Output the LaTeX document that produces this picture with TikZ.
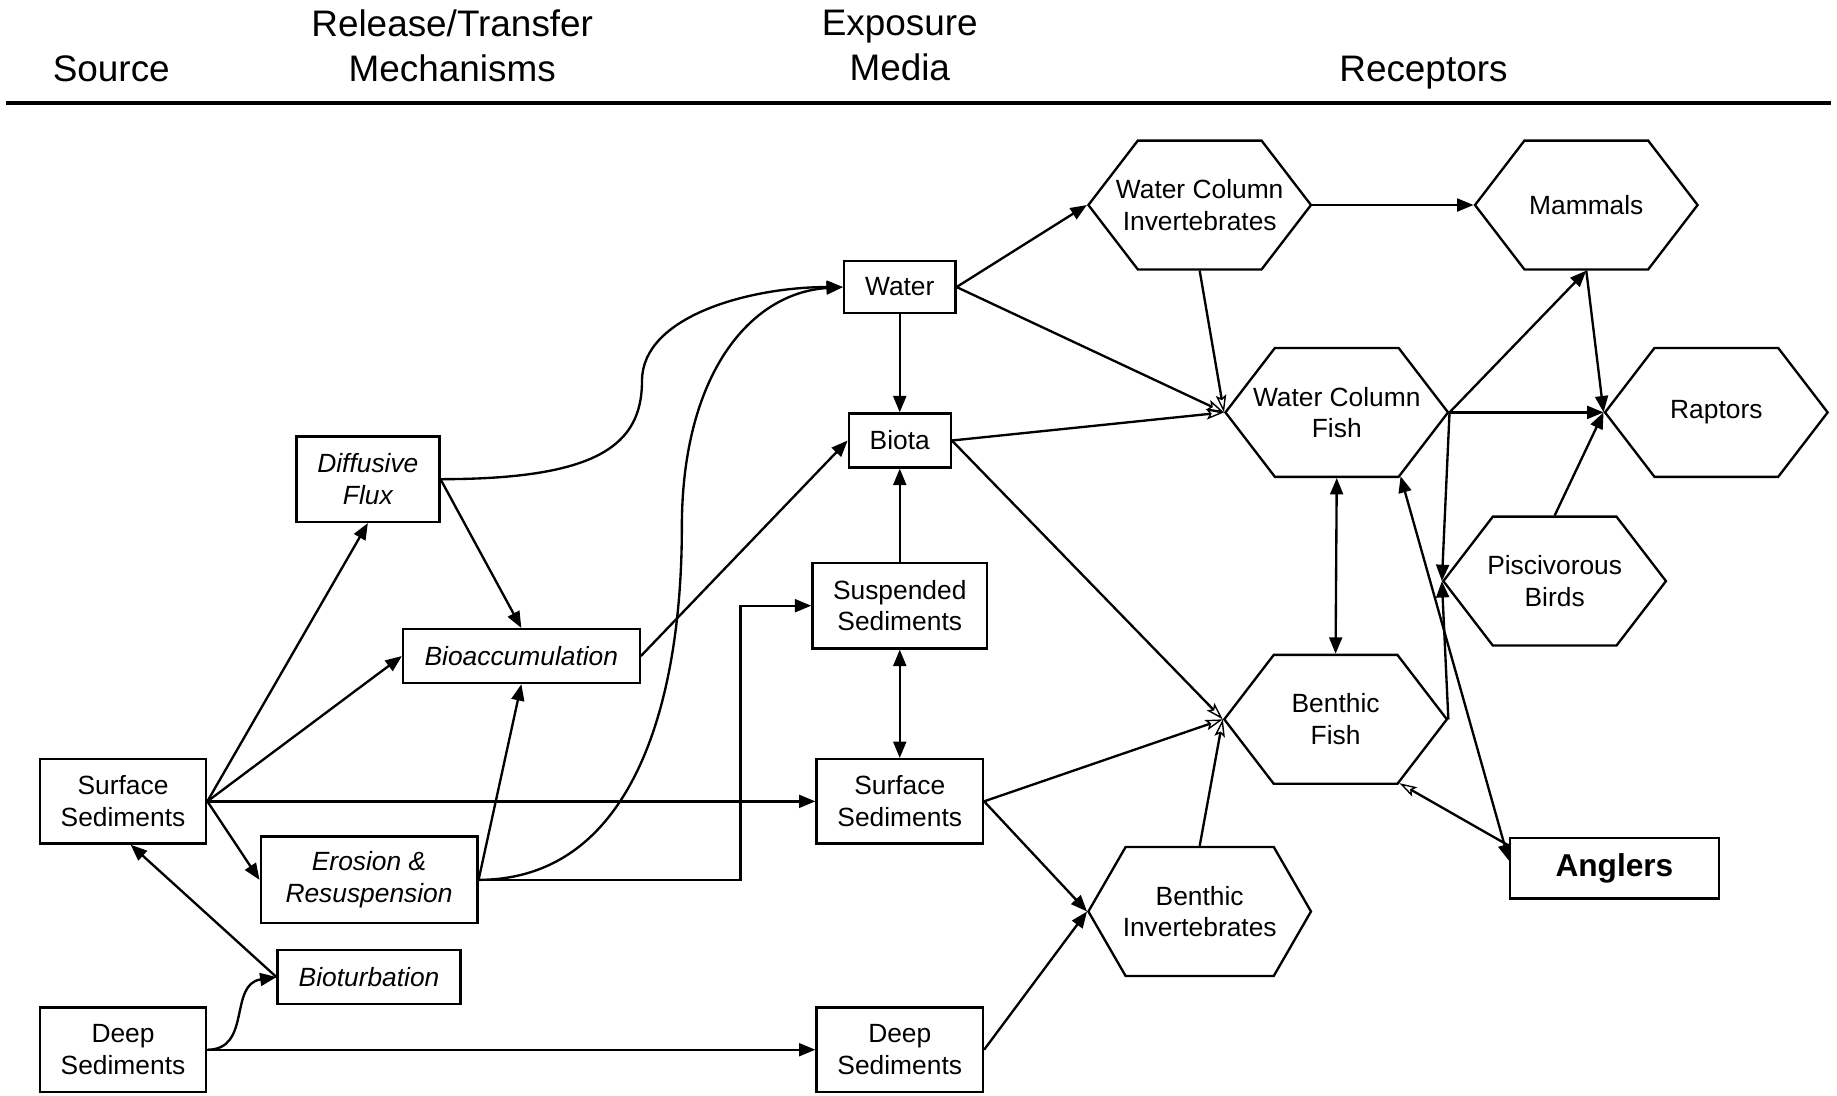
\documentclass[tikz,border=0pt]{standalone}
\usepackage{fontspec}
\setmainfont{Liberation Sans}
\usetikzlibrary{arrows.meta,shapes.symbols}

\tikzset{
	title/.style={align=center, inner sep=0pt, font=\fontsize{31.5}{38}\selectfont},
	box/.style={draw, line width=2pt, inner sep=0pt, align=center, font=\fontsize{22.5}{27}\selectfont},
	ibox/.style={box, font=\fontsize{22.5}{27}\selectfont\itshape},
	sedbox/.style={box, minimum width=142pt, minimum height=72pt},
	hex/.style={draw, line width=2pt, signal, signal to=east and west, signal pointer angle=105,
		minimum width=190pt, minimum height=110pt, inner ysep=0pt, inner xsep=-20pt, align=center,
		font=\fontsize{22.5}{27}\selectfont},
	arr/.style={line width=2pt, -{Triangle[length=14pt,width=11pt]}},
	darr/.style={line width=2pt, {Triangle[length=14pt,width=11pt]}-{Triangle[length=14pt,width=11pt]}},
	tarr/.style={line width=2pt, -{Stealth[open,length=15pt,width=9pt,inset=3pt,line width=1.2pt]}}
}

\begin{document}
\begin{tikzpicture}[x=1pt,y=-1pt]
	\useasboundingbox (0,0) rectangle (1568,935);

	\node[title] (source) at (95,59) {Source};
	\node[title] (release) at (386,39) {Release/Transfer\\Mechanisms};
	\node[title] (exposure) at (768,39) {Exposure\\Media};
	\node[title] (receptors) at (1215,62) {Receptors};
	\draw[line width=4pt] (5,88) -- (1563,88);

	\node[sedbox] (srcsurf) at (105,684) {Surface\\Sediments};
	\node[sedbox] (srcdeep) at (105,896) {Deep\\Sediments};

	\node[ibox, minimum width=122pt, minimum height=73pt] (diffusive) at (314,409) {Diffusive\\Flux};
	\node[ibox, minimum width=202pt, minimum height=46pt] (bioacc) at (445,560) {Bioaccumulation};
	\node[ibox, minimum width=185pt, minimum height=74pt] (erosion) at (315,751) {Erosion \&\\Resuspension};
	\node[ibox, minimum width=156pt, minimum height=46pt] (bioturb) at (315,834) {Bioturbation};

	\node[box, minimum width=95pt, minimum height=44pt] (water) at (768,245) {Water};
	\node[box, minimum width=87pt, minimum height=46pt] (biota) at (768,376) {Biota};
	\node[box, minimum width=149pt, minimum height=73pt] (susp) at (768,517) {Suspended\\Sediments};
	\node[sedbox] (medsurf) at (768,684) {Surface\\Sediments};
	\node[sedbox] (meddeep) at (768,896) {Deep\\Sediments};

	\node[hex] (wcinv) at (1024,175) {Water Column\\Invertebrates};
	\node[hex] (mammals) at (1354,175) {Mammals};
	\node[hex] (wcfish) at (1141,352) {Water Column\\Fish};
	\node[hex] (raptors) at (1465,352) {Raptors};
	\node[hex] (birds) at (1327,496) {Piscivorous\\Birds};
	\node[hex] (bfish) at (1140,614) {Benthic\\Fish};
	\node[hex, signal pointer angle=120] (binv) at (1024,778) {Benthic\\Invertebrates};
	\node[box, minimum width=178pt, minimum height=52pt, font=\fontsize{27}{32}\selectfont\bfseries] (anglers) at (1378,741) {Anglers};

	\draw[arr] (srcsurf.east) -- (diffusive.south);
	\draw[arr] (srcsurf.east) -- (bioacc.west);
	\draw[arr] (srcsurf.east) -- (medsurf.west);
	\draw[arr] (srcsurf.east) -- (erosion.west);
	\draw[arr] (bioturb.west) -- (srcsurf.-80);
	\draw[arr] (srcdeep.east) .. controls (215,896) and (195,840) .. (bioturb.west);
	\draw[arr] (srcdeep.east) -- (meddeep.west);

	\draw[arr] (diffusive.east) -- (bioacc.north);
	\draw[arr] (diffusive.east) .. controls (510,409) and (548,380) .. (548,325) .. controls (548,270) and (640,245) .. (water.west);
	\draw[arr] (erosion.east) -- (bioacc.south);
	\draw[arr] (erosion.east) .. controls (540,751) and (582,600) .. (582,450) .. controls (582,320) and (640,250) .. (water.west);
	\draw[arr] (erosion.east) -- (632,751) |- (susp.west);
	\draw[arr] (bioacc.east) -- (biota.west);

	\draw[arr] (water.south) -- (biota.north);
	\draw[arr] (susp.north) -- (biota.south);
	\draw[darr] (susp.south) -- (medsurf.north);

	\draw[arr] (water.east) -- (wcinv.west);
	\draw[tarr] (water.east) -- (wcfish.west);
	\draw[tarr] (biota.east) -- (wcfish.west);
	\draw[tarr] (biota.east) -- (bfish.west);
	\draw[tarr] (medsurf.east) -- (bfish.west);
	\draw[arr] (medsurf.east) -- (binv.west);
	\draw[arr] (meddeep.east) -- (binv.west);
	\draw[tarr] (binv.north) -- (bfish.west);
	\draw[tarr] (wcinv.south) -- (wcfish.west);

	\draw[arr] (wcinv.east) -- (mammals.west);
	\draw[arr] (wcfish.east) -- (mammals.south);
	\draw[arr] (wcfish.east) -- (raptors.west);
	\draw[arr] (mammals.south) -- (raptors.west);
	\draw[arr] (birds.north) -- (raptors.west);
	\draw[arr] (wcfish.east) -- (birds.west);
	\draw[arr] (bfish.east) -- (birds.west);
	\draw[darr] (wcfish.south) -- (bfish.north);
	\draw[darr] (anglers.176) -- (wcfish.-45);
	\draw[tarr] (anglers.168) -- (bfish.-45);
\end{tikzpicture}
\end{document}
